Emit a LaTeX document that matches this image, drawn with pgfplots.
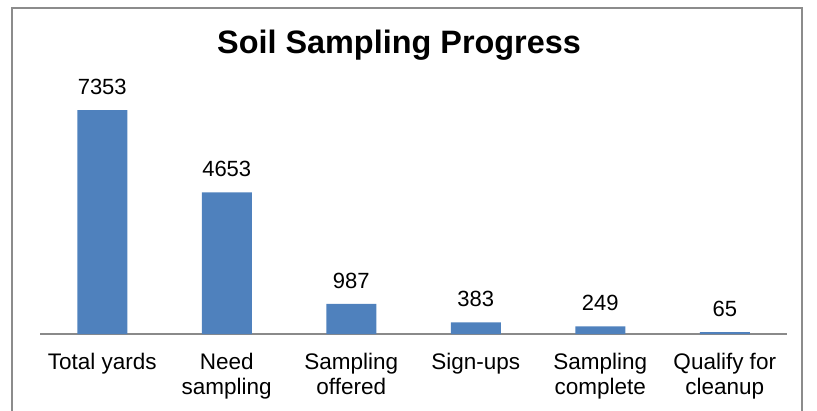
\documentclass[border=0pt]{standalone}
\usepackage{pgfplots}
\pgfplotsset{compat=1.18}
\usepackage{fontspec}
\setmainfont{Liberation Sans}
\definecolor{barblue}{HTML}{4F81BD}
\definecolor{framegray}{HTML}{8C8C8C}
\definecolor{axgray}{HTML}{8A8A8A}
\begin{document}
\begin{tikzpicture}[x=1bp,y=1bp]
\useasboundingbox (0,0) rectangle (817,-410);
\draw[framegray, line width=1.8bp] (12,-8) rectangle (802,-440);
\node[anchor=base, inner sep=0pt, font=\fontsize{32.4bp}{36bp}\selectfont\bfseries] at (399,-53.5) {Soil Sampling Progress};
\begin{axis}[
  at={(40bp,-334bp)}, anchor=south west,
  scale only axis, width=747bp, height=243.7bp,
  xmin=-0.5, xmax=5.5, ymin=0, ymax=8000,
  axis x line*=bottom, axis y line=none,
  axis line style={draw=axgray, line width=1.8bp},
  ybar, bar width=50bp,
  xtick=data,
  xticklabels={{\raisebox{9bp}{Total yards}},{Need\\sampling},{Sampling\\offered},{Sign-ups},{Sampling\\complete},{Qualify for\\cleanup}},
  major tick length=0pt,
  xticklabel style={align=center, anchor=north, inner sep=0pt, yshift=-19bp, font=\fontsize{22.5bp}{24.5bp}\selectfont},
  /pgf/number format/.cd, 1000 sep={}, assume math mode=true, /pgfplots/.cd,
  nodes near coords,
  every node near coord/.append style={font=\fontsize{22bp}{24bp}\selectfont, anchor=base, inner sep=0pt, yshift=15.5bp, black},
  clip=false,
]
\addplot[fill=barblue, draw=none] coordinates {(0,7353) (1,4653) (2,987) (3,383) (4,249) (5,65)};
\end{axis}
\end{tikzpicture}
\end{document}
